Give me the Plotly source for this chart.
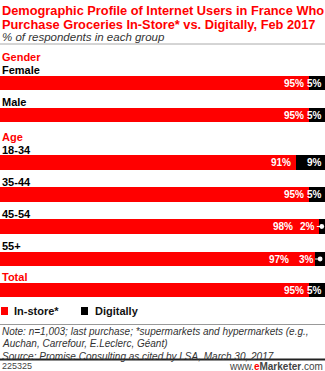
import plotly.graph_objects as go

# ---- data ----
categories = ["Female", "Male", "18-34", "35-44", "45-54", "55+", "Total"]
in_store = [95, 95, 91, 95, 98, 97, 95]
digitally = [5, 5, 9, 5, 2, 3, 5]
groups = ["Gender", "Gender", "Age", "Age", "Age", "Age", "Total"]

# ---- layout constants (pixels, figure is 325x371) ----
W, H = 325, 371
RED = "#ff0000"
BLACK = "#000000"
FONT = "Liberation Sans"
bar_centers = [83, 115, 162.5, 194.5, 226.5, 259, 290]
label_centers = [70, 102, 150, 182, 214, 246, 277]
header_centers = {"Gender": 57, "Age": 137}

fig = go.Figure()
fig.add_trace(go.Bar(
    y=bar_centers, x=in_store, orientation="h", width=14.5,
    marker=dict(color=RED, line=dict(width=0)), name="In-store*",
    hoverinfo="skip", showlegend=False))
fig.add_trace(go.Bar(
    y=bar_centers, x=digitally, orientation="h", width=14.5,
    marker=dict(color=BLACK, line=dict(width=0)), name="Digitally",
    hoverinfo="skip", showlegend=False))

ann = []
def px(xpx):
    return xpx / W

# titles
ann.append(dict(x=0, y=10, xref="paper", yref="y", xanchor="left", yanchor="middle",
                text="<b>Demographic Profile of Internet Users in France Who</b>",
                font=dict(family=FONT, size=12.8, color=RED), showarrow=False))
ann.append(dict(x=0, y=24, xref="paper", yref="y", xanchor="left", yanchor="middle",
                text="<b>Purchase Groceries In-Store* vs. Digitally, Feb 2017</b>",
                font=dict(family=FONT, size=12.8, color=RED), showarrow=False))
ann.append(dict(x=0, y=37, xref="paper", yref="y", xanchor="left", yanchor="middle",
                text="<i>% of respondents in each group</i>",
                font=dict(family=FONT, size=11.5, color="#333333"), showarrow=False))

# group headers
for g, yc in header_centers.items():
    ann.append(dict(x=0, y=yc, xref="paper", yref="y", xanchor="left", yanchor="middle",
                    text=f"<b>{g}</b>", font=dict(family=FONT, size=11, color=RED),
                    showarrow=False))

# category labels
for cat, g, yc in zip(categories, groups, label_centers):
    col = RED if cat == "Total" else BLACK
    ann.append(dict(x=0, y=yc, xref="paper", yref="y", xanchor="left", yanchor="middle",
                    text=f"<b>{cat}</b>", font=dict(family=FONT, size=11, color=col),
                    showarrow=False))

# value labels
for s, d, yc in zip(in_store, digitally, bar_centers):
    small = d < 5
    ann.append(dict(x=s, y=yc, xref="x", yref="y", xanchor="right", yanchor="middle",
                    xshift=-24 if small else -3,
                    text=f"<b>{s}%</b>", font=dict(family=FONT, size=10, color="white"),
                    showarrow=False))
    if small:
        ann.append(dict(x=s + d / 2, y=yc, xref="x", yref="y",
                        ax=-14, ay=0, axref="pixel", ayref="pixel",
                        text=f"<b>{d}%</b>", font=dict(family=FONT, size=10, color="white"),
                        showarrow=True, arrowhead=6, arrowsize=1, arrowwidth=1.2,
                        arrowcolor="white", standoff=0, startstandoff=0))
    else:
        ann.append(dict(x=100, y=yc, xref="x", yref="y", xanchor="right", yanchor="middle",
                        xshift=-1,
                        text=f"<b>{d}%</b>", font=dict(family=FONT, size=10, color="white"),
                        showarrow=False))

# legend (manual)
shapes = []
leg_y = 311
for xs, col, lab, tx in [(1, RED, "In-store*", 12), (81, BLACK, "Digitally", 93)]:
    shapes.append(dict(type="rect", xref="paper", yref="y", x0=px(xs), x1=px(xs + 7),
                       y0=leg_y - 4, y1=leg_y + 4, fillcolor=col, line=dict(width=0)))
    ann.append(dict(x=px(tx), y=leg_y, xref="paper", yref="y", xanchor="left", yanchor="middle",
                    text=f"<b>{lab}</b>", font=dict(family=FONT, size=11, color="#111111"),
                    showarrow=False))

# separators
shapes.append(dict(type="line", xref="paper", yref="y", x0=0, x1=1, y0=44, y1=44,
                   line=dict(color="#aaaaaa", width=1)))
shapes.append(dict(type="line", xref="paper", yref="y", x0=0, x1=1, y0=324.5, y1=324.5,
                   line=dict(color="#999999", width=1)))
shapes.append(dict(type="line", xref="paper", yref="y", x0=0, x1=1, y0=359.5, y1=359.5,
                   line=dict(color="#222222", width=2)))

# notes
notes = ["Note: n=1,003; last purchase; *supermarkets and hypermarkets (e.g.,",
         "Auchan, Carrefour, E.Leclerc, Géant)",
         "Source: Promise Consulting as cited by LSA, March 30, 2017"]
for i, t in enumerate(notes):
    ann.append(dict(x=0, y=331 + 12.5 * i, xref="paper", yref="y", xanchor="left",
                    yanchor="middle", text=f"<i>{t}</i>",
                    font=dict(family=FONT, size=10, color="#333333"), showarrow=False))

ann.append(dict(x=0, y=366, xref="paper", yref="y", xanchor="left", yanchor="middle",
                text="225325", font=dict(family=FONT, size=9, color="#444444"),
                showarrow=False))
ann.append(dict(x=1, y=366, xref="paper", yref="y", xanchor="right", yanchor="middle",
                text="www.<b><span style='color:#ff0000'>e</span>Marketer</b>.com",
                font=dict(family=FONT, size=10, color="#444444"), showarrow=False))

fig.update_layout(
    width=W, height=H, margin=dict(l=0, r=0, t=0, b=0),
    paper_bgcolor="white", plot_bgcolor="white",
    barmode="stack", bargap=0,
    xaxis=dict(range=[0, 100], visible=False, fixedrange=True),
    yaxis=dict(range=[H, 0], visible=False, fixedrange=True),
    annotations=ann, shapes=shapes, showlegend=False,
)
fig.write_html("out.html", config={"displayModeBar": False})
